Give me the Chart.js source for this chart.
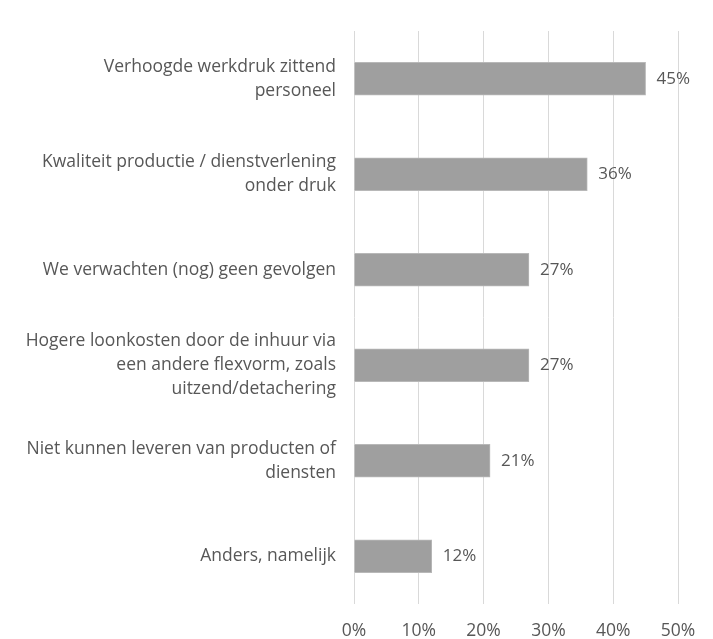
<!DOCTYPE html>
<html>
<head>
<meta charset="utf-8">
<script src="https://cdn.jsdelivr.net/npm/chart.js@4"></script>
<style>
  html, body { margin: 0; padding: 0; background: #fff; }
  #wrap { width: 713px; height: 639px; }
</style>
</head>
<body>
<div id="wrap"><canvas id="myChart" width="713" height="639"></canvas></div>
<script>
// categorieen (meerregelig zoals in de grafiek) en percentages
const categories = [
  ['Verhoogde werkdruk zittend', 'personeel'],
  ['Kwaliteit productie / dienstverlening', 'onder druk'],
  ['We verwachten (nog) geen gevolgen'],
  ['Hogere loonkosten door de inhuur via', 'een andere flexvorm, zoals', 'uitzend/detachering'],
  ['Niet kunnen leveren van producten of', 'diensten'],
  ['Anders, namelijk']
];
const values = [45, 36, 27, 27, 21, 12];
const xTicks = [0, 10, 20, 30, 40, 50];

const textColor = '#575757';
const fontFamily = '"Open Sans", "Noto Sans", sans-serif';

// waarde rechts naast elke balk
const valueLabels = {
  id: 'valueLabels',
  afterDatasetsDraw(chart) {
    const c = chart.ctx;
    const meta = chart.getDatasetMeta(0);
    c.save();
    c.fillStyle = textColor;
    c.font = '17px ' + fontFamily;
    c.textAlign = 'left';
    c.textBaseline = 'middle';
    meta.data.forEach(function(bar, i) {
      c.fillText(values[i] + '%', bar.x + 11, bar.y);
    });
    c.restore();
  }
};

let ctx = document.getElementById('myChart').getContext('2d');
let myChart = new Chart(ctx, {
  type: 'bar',
  data: {
    labels: categories,
    datasets: [{
      data: values,
      backgroundColor: '#9f9f9f',
      borderColor: '#b8b8b8',
      borderWidth: 1,
      barThickness: 33
    }]
  },
  plugins: [valueLabels],
  options: {
    indexAxis: 'y',
    responsive: false,
    animation: false,
    layout: { padding: { top: 31, right: 35, bottom: 0, left: 0 } },
    plugins: {
      legend: { display: false },
      tooltip: { enabled: false }
    },
    scales: {
      x: {
        min: 0,
        max: 50,
        afterBuildTicks: function(scale) {
          scale.ticks = xTicks.map(v => ({ value: v }));
        },
        afterFit: function(scale) { scale.height = 35; },
        grid: { color: '#d9d9d9', lineWidth: 1, drawTicks: false },
        border: { display: false },
        ticks: {
          padding: 17,
          color: textColor,
          font: { family: fontFamily, size: 17.5 },
          callback: v => v + '%'
        }
      },
      y: {
        afterFit: function(scale) {
          scale.width = 354;
          // meerregelige labels mogen het plotgebied niet verkleinen
          scale.paddingTop = 0;
          scale.paddingBottom = 0;
        },
        grid: { display: false, drawTicks: false },
        border: { display: false },
        ticks: {
          padding: 18,
          color: textColor,
          font: { family: fontFamily, size: 17.5, lineHeight: 24 / 17.5 }
        }
      }
    }
  }
});
</script>
</body>
</html>
